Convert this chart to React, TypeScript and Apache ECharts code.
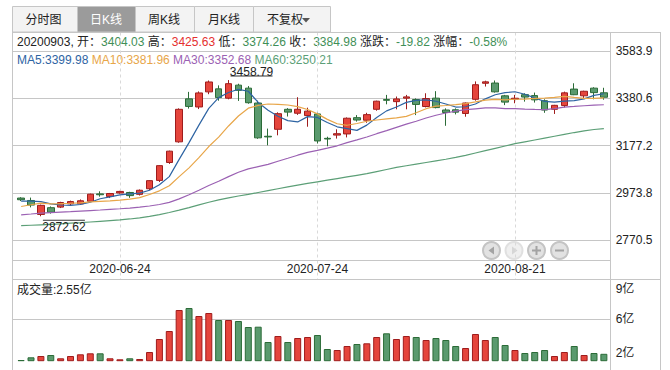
import { useEffect, useRef } from 'react';
import * as echarts from 'echarts';

const FONT = '"Liberation Sans", "Noto Sans CJK SC", sans-serif';

const dates = [
  '2020-06-10', '2020-06-11', '2020-06-12', '2020-06-15', '2020-06-16', '2020-06-17', '2020-06-18', '2020-06-19', '2020-06-22', '2020-06-23',
  '2020-06-24', '2020-06-29', '2020-06-30', '2020-07-01', '2020-07-02', '2020-07-03', '2020-07-06', '2020-07-07', '2020-07-08', '2020-07-09',
  '2020-07-10', '2020-07-13', '2020-07-14', '2020-07-15', '2020-07-16', '2020-07-17', '2020-07-20', '2020-07-21', '2020-07-22', '2020-07-23',
  '2020-07-24', '2020-07-27', '2020-07-28', '2020-07-29', '2020-07-30', '2020-07-31', '2020-08-03', '2020-08-04', '2020-08-05', '2020-08-06',
  '2020-08-07', '2020-08-10', '2020-08-11', '2020-08-12', '2020-08-13', '2020-08-14', '2020-08-17', '2020-08-18', '2020-08-19', '2020-08-20',
  '2020-08-21', '2020-08-24', '2020-08-25', '2020-08-26', '2020-08-27', '2020-08-28', '2020-08-31', '2020-09-01', '2020-09-02', '2020-09-03',
];

// [open, close, low, high]
const candles = [
  [2951.0, 2943.75, 2938.0, 2954.6], [2940.6, 2920.9, 2911.0, 2953.0], [2880.5, 2919.74, 2872.62, 2922.8], [2909.5, 2890.03, 2884.0, 2915.0],
  [2912.0, 2931.75, 2908.0, 2935.0], [2926.0, 2935.87, 2920.0, 2940.0], [2926.0, 2939.32, 2921.0, 2945.0], [2937.0, 2967.63, 2935.0, 2970.0],
  [2969.0, 2965.27, 2957.0, 2980.0], [2958.0, 2970.62, 2951.0, 2973.0], [2973.0, 2979.55, 2970.0, 2982.0], [2975.0, 2961.52, 2952.0, 2978.0],
  [2967.0, 2984.67, 2962.0, 2988.0], [2991.0, 3025.98, 2985.0, 3027.0], [3027.0, 3090.57, 3020.0, 3092.0], [3104.0, 3152.81, 3098.0, 3155.0],
  [3193.0, 3332.88, 3189.0, 3337.0], [3378.0, 3345.34, 3336.0, 3408.0], [3343.0, 3403.44, 3334.0, 3410.0], [3408.0, 3450.59, 3398.0, 3457.0],
  [3421.0, 3383.32, 3370.0, 3436.0], [3381.0, 3443.29, 3376.0, 3458.79], [3437.0, 3414.62, 3369.0, 3443.0], [3424.0, 3361.3, 3357.0, 3433.0],
  [3360.0, 3210.1, 3206.0, 3370.0], [3217.0, 3214.13, 3178.0, 3250.0], [3247.0, 3314.15, 3221.0, 3320.0], [3333.0, 3320.9, 3302.0, 3338.0],
  [3316.0, 3333.16, 3309.0, 3385.0], [3306.0, 3325.11, 3258.0, 3340.0], [3313.0, 3196.77, 3186.0, 3318.0], [3208.0, 3205.23, 3174.0, 3215.0],
  [3222.0, 3227.96, 3207.0, 3247.0], [3227.0, 3294.55, 3212.0, 3298.0], [3297.0, 3286.82, 3280.0, 3308.0], [3286.0, 3310.01, 3275.0, 3318.0],
  [3333.0, 3367.97, 3327.0, 3370.0], [3375.0, 3371.69, 3354.5, 3395.0], [3366.0, 3377.56, 3333.0, 3388.0], [3381.0, 3386.46, 3333.0, 3395.0],
  [3375.0, 3354.04, 3308.0, 3380.0], [3345.0, 3379.25, 3341.0, 3402.0], [3381.0, 3340.29, 3337.0, 3411.0], [3330.0, 3319.27, 3262.0, 3337.0],
  [3331.0, 3320.73, 3311.0, 3337.0], [3315.0, 3360.1, 3301.0, 3362.0], [3376.0, 3438.8, 3370.0, 3453.0], [3445.0, 3451.09, 3431.0, 3456.0],
  [3446.0, 3408.13, 3405.0, 3457.0], [3391.0, 3363.9, 3351.0, 3395.0], [3377.0, 3380.68, 3359.0, 3395.0], [3396.0, 3385.64, 3366.0, 3402.0],
  [3392.0, 3373.58, 3362.0, 3405.0], [3370.0, 3329.74, 3318.0, 3376.0], [3333.0, 3350.11, 3313.0, 3352.0], [3349.0, 3403.81, 3341.0, 3409.0],
  [3420.0, 3395.68, 3394.0, 3445.0], [3391.0, 3410.61, 3380.0, 3413.0], [3424.0, 3404.8, 3376.0, 3428.0], [3404.03, 3384.98, 3374.26, 3425.63],
];

// 成交量 (亿)
const volumes = [
  1.93, 2.2, 2.33, 2.43, 2.1, 2.33, 2.5, 2.6, 2.6, 2.1,
  2.0, 2.1, 2.03, 2.73, 4.03, 4.83, 6.93, 7.13, 6.33, 6.63,
  5.93, 5.93, 5.83, 5.23, 5.26, 3.73, 4.33, 3.73, 4.13, 4.23,
  4.43, 3.03, 2.93, 3.33, 3.53, 3.6, 4.23, 4.6, 4.03, 4.33,
  4.23, 3.93, 4.13, 3.93, 3.33, 3.13, 4.53, 3.93, 4.23, 3.43,
  2.93, 2.63, 2.73, 2.93, 2.33, 2.73, 3.33, 2.43, 2.63, 2.55,
];

const ma5 = [
  2937.54, 2937.87, 2935.65, 2926.11, 2921.23, 2919.66, 2923.34, 2932.92, 2947.97, 2955.74,
  2964.48, 2968.92, 2972.33, 2984.47, 3008.46, 3043.11, 3117.38, 3189.52, 3265.01, 3337.01,
  3383.11, 3405.2, 3419.05, 3410.62, 3362.53, 3328.69, 3302.86, 3284.12, 3278.49, 3301.49,
  3298.02, 3276.23, 3257.65, 3249.92, 3242.27, 3264.91, 3297.46, 3326.21, 3342.81, 3362.74,
  3371.54, 3373.8, 3367.52, 3355.86, 3342.72, 3343.93, 3355.84, 3378.0, 3395.77, 3404.4,
  3408.52, 3397.89, 3382.39, 3366.71, 3363.95, 3368.58, 3370.58, 3377.99, 3393.0, 3399.98,
];
const ma10 = [
  2914.68, 2922.11, 2928.85, 2926.31, 2927.35, 2928.6, 2930.6, 2934.29, 2937.04, 2938.49,
  2942.07, 2946.13, 2952.62, 2966.22, 2982.1, 3003.79, 3043.15, 3080.92, 3124.74, 3172.74,
  3213.11, 3261.29, 3304.28, 3337.82, 3349.77, 3355.9, 3354.03, 3351.58, 3344.56, 3332.01,
  3313.35, 3289.55, 3270.88, 3264.21, 3271.88, 3281.47, 3286.85, 3291.93, 3296.37, 3302.5,
  3318.23, 3335.63, 3346.86, 3349.34, 3352.73, 3357.74, 3364.82, 3372.76, 3375.82, 3373.56,
  3376.22, 3376.86, 3380.19, 3381.24, 3384.18, 3388.55, 3384.24, 3380.19, 3379.86, 3381.96,
];
const ma30 = [
  2878.79, 2882.3, 2885.96, 2888.21, 2890.6, 2892.52, 2894.78, 2897.19, 2899.54, 2902.18,
  2904.9, 2907.94, 2911.81, 2916.83, 2923.23, 2932.2, 2947.7, 2965.42, 2984.94, 3005.09,
  3023.31, 3043.2, 3061.94, 3076.8, 3086.42, 3096.11, 3109.27, 3122.27, 3135.45, 3147.75,
  3156.18, 3165.66, 3175.93, 3189.41, 3201.25, 3213.72, 3228.01, 3241.48, 3255.22, 3269.08,
  3281.56, 3295.49, 3307.34, 3317.12, 3324.79, 3331.7, 3335.23, 3338.75, 3338.91, 3336.02,
  3335.93, 3334.01, 3332.64, 3331.59, 3336.26, 3342.58, 3345.3, 3348.29, 3350.68, 3352.68,
];
const ma60 = [
  2832, 2834, 2836, 2838, 2840, 2843, 2845, 2848, 2851, 2854,
  2857, 2861, 2866, 2872, 2880, 2889, 2899, 2910, 2922, 2933,
  2943, 2952, 2960, 2967, 2975, 2983, 2991, 2999, 3007, 3014,
  3021, 3028, 3035, 3042, 3049, 3056, 3065, 3074, 3083, 3090,
  3097, 3104, 3111, 3118, 3126, 3135, 3145, 3155, 3165, 3175,
  3185, 3193, 3201, 3209, 3217, 3225, 3233, 3240, 3246, 3250.21,
];

const priceTickLabels = ['2770.5', '2973.8', '3177.2', '3380.6', '3583.9'];
const priceMin = 2770.5;
const priceMax = 3583.9;
const volTickValues = [2, 6, 9];
const volMin = 1.86;
const volMax = 10;

const tabs = ['分时图', '日K线', '周K线', '月K线', '不复权'];
const activeTab = 1;

const RED_FILL = '#e5453c';
const RED_BORDER = '#9f1c1c';
const GREEN_FILL = '#5a9a6e';
const GREEN_BORDER = '#2b6b37';
const TXT_GREEN = '#3f8f57';
const TXT_RED = '#e5302f';
const MA_COLORS = ['#2e64a3', '#e8a649', '#9b61b3', '#5c9f77'];
const LINE = '#c6c6c6';

const labelInterval = (i: number) => i % 20 === 10;

function buildOption() {
  const last = candles[candles.length - 1];
  const prevClose = candles[candles.length - 2][1];
  const chg = last[1] - prevClose;
  const pct = (chg / prevClose) * 100;
  const lastDate = dates[dates.length - 1].replace(/-/g, '');

  const infoText =
    `{k|${lastDate}, 开：}{g|${last[0].toFixed(2)}}{k| 高：}{r|${last[3].toFixed(2)}}` +
    `{k| 低：}{g|${last[2].toFixed(2)}}{k| 收：}{g|${last[1].toFixed(2)}}` +
    `{k| 涨跌：}{g|${chg.toFixed(2)}}{k| 涨幅：}{g|${pct.toFixed(2)}%}`;
  const n = ma5.length - 1;
  const maText =
    `{a|MA5:${ma5[n].toFixed(2)} }{b|MA10:${ma10[n].toFixed(2)} }{c|MA30:${ma30[n].toFixed(2)} }{d|MA60:${ma60[n].toFixed(2)}}`;

  const tabGeom = [
    { x: 12, w: 65, cx: 43.5 },
    { x: 77, w: 58, cx: 106 },
    { x: 135, w: 59, cx: 164 },
    { x: 194, w: 59, cx: 224 },
    { x: 253, w: 77, cx: 285 },
  ];
  const elements: any[] = [];
  tabs.forEach((t, i) => {
    const g = tabGeom[i];
    elements.push({
      type: 'rect',
      shape: { x: g.x + 0.5, y: 6.5, width: g.w, height: 25.5 },
      style: { fill: i === activeTab ? '#9b9b9b' : '#f3f3f3', stroke: '#c6c6c6', lineWidth: 1 },
    });
    elements.push({
      type: 'text',
      style: {
        text: t, x: g.cx, y: 19.5, fill: i === activeTab ? '#ffffff' : '#222',
        fontSize: 12, fontFamily: FONT, align: 'center', verticalAlign: 'middle',
        textAlign: 'center', textVerticalAlign: 'middle',
      },
    });
  });
  elements.push({
    type: 'polygon',
    shape: { points: [[302, 18], [310, 18], [306, 22.5]] },
    style: { fill: '#555' },
  });

  // frame lines
  const L = (x1: number, y1: number, x2: number, y2: number) => ({
    type: 'line', shape: { x1, y1, x2, y2 }, style: { stroke: LINE, lineWidth: 1 }, z: 1,
  });
  elements.push(L(12.5, 32, 12.5, 370));
  elements.push(L(660.5, 32, 660.5, 370));
  elements.push(L(12, 32.5, 661, 32.5));
  elements.push(L(610.5, 32, 610.5, 370));
  elements.push(L(12, 260.5, 611, 260.5));
  elements.push(L(12, 279.5, 661, 279.5));

  elements.push({
    type: 'text',
    style: {
      text: infoText, x: 17, y: 42, fontSize: 12, fontFamily: FONT,
      verticalAlign: 'middle', textVerticalAlign: 'middle',
      rich: {
        k: { fill: '#222', fontSize: 12, fontFamily: FONT, lineHeight: 12 },
        g: { fill: TXT_GREEN, fontSize: 12, fontFamily: FONT, lineHeight: 12 },
        r: { fill: TXT_RED, fontSize: 12, fontFamily: FONT, lineHeight: 12 },
      },
    },
  });
  elements.push({
    type: 'text',
    style: {
      text: maText, x: 17, y: 60, fontSize: 12, fontFamily: FONT,
      verticalAlign: 'middle', textVerticalAlign: 'middle',
      rich: {
        a: { fill: MA_COLORS[0], fontSize: 12, fontFamily: FONT, lineHeight: 12 },
        b: { fill: MA_COLORS[1], fontSize: 12, fontFamily: FONT, lineHeight: 12 },
        c: { fill: MA_COLORS[2], fontSize: 12, fontFamily: FONT, lineHeight: 12 },
        d: { fill: MA_COLORS[3], fontSize: 12, fontFamily: FONT, lineHeight: 12 },
      },
    },
  });
  elements.push({
    type: 'text',
    style: {
      text: `成交量:${volumes[volumes.length - 1].toFixed(2)}亿`, x: 17, y: 290, fill: '#222',
      fontSize: 12, fontFamily: FONT, verticalAlign: 'middle', textVerticalAlign: 'middle',
    },
  });

  // zoom buttons
  const bx = [491.5, 514, 536.5, 559.5];
  const by = 250.5;
  bx.forEach((cx, i) => {
    const disabled = i === 1;
    elements.push({
      type: 'circle',
      shape: { cx, cy: by, r: 8.5 },
      style: { fill: disabled ? '#efefef' : '#e2e2e2', stroke: disabled ? '#e0e0e0' : '#c4c4c4', lineWidth: 2 },
    });
    const ic = disabled ? '#d6d6d6' : '#a3a3a3';
    if (i === 0) {
      elements.push({ type: 'polygon', shape: { points: [[cx + 2.5, by - 4], [cx + 2.5, by + 4], [cx - 3, by]] }, style: { fill: ic } });
    } else if (i === 1) {
      elements.push({ type: 'polygon', shape: { points: [[cx - 2, by - 4], [cx - 2, by + 4], [cx + 3.5, by]] }, style: { fill: ic } });
    } else if (i === 2) {
      elements.push({ type: 'rect', shape: { x: cx - 4.5, y: by - 1, width: 9, height: 2 }, style: { fill: ic } });
      elements.push({ type: 'rect', shape: { x: cx - 1, y: by - 4.5, width: 2, height: 9 }, style: { fill: ic } });
    } else {
      elements.push({ type: 'rect', shape: { x: cx - 4.5, y: by - 1, width: 9, height: 2 }, style: { fill: ic } });
    }
  });

  const volData = volumes.map((v, i) => {
    const up = candles[i][1] >= candles[i][0];
    return {
      value: v,
      itemStyle: { color: up ? RED_FILL : GREEN_FILL, borderColor: up ? RED_BORDER : GREEN_BORDER, borderWidth: 1 },
    };
  });

  const maSeries = [ma5, ma10, ma30, ma60].map((d, i) => ({
    type: 'line',
    name: ['MA5', 'MA10', 'MA30', 'MA60'][i],
    xAxisIndex: 0,
    yAxisIndex: 0,
    data: d,
    symbol: 'none',
    showSymbol: false,
    silent: true,
    lineStyle: { color: MA_COLORS[i], width: 1.2 },
    z: 3,
  }));

  const axisText = { color: '#222', fontSize: 12, fontFamily: FONT };

  return {
    animation: false,
    backgroundColor: '#ffffff',
    textStyle: { fontFamily: FONT },
    graphic: { elements },
    grid: [
      { left: 16.2, top: 51, width: 592.6, height: 189 },
      { left: 12, top: 51, width: 598.7, height: 189 },
      { left: 21.14, top: 32.5, width: 582.74, height: 246.8 },
      { left: 16.2, top: 279.3, width: 592.6, height: 81.4 },
      { left: 12, top: 279.3, width: 598.7, height: 81.4 },
    ],
    xAxis: [
      {
        gridIndex: 0, type: 'category', data: dates, boundaryGap: true,
        axisLine: { show: false }, axisTick: { show: false }, splitLine: { show: false },
        axisLabel: { ...axisText, interval: labelInterval, margin: 23 },
      },
      { gridIndex: 1, type: 'value', min: 0, max: 1, show: false },
      {
        gridIndex: 2, type: 'category', data: dates, boundaryGap: false,
        axisLine: { show: false }, axisTick: { show: false }, axisLabel: { show: false },
        splitLine: { show: true, interval: labelInterval, lineStyle: { color: '#d9d9d9', type: [3, 3], width: 1 } },
      },
      { gridIndex: 3, type: 'category', data: dates, boundaryGap: true, show: false },
      { gridIndex: 4, type: 'value', min: 0, max: 1, show: false },
    ],
    yAxis: [
      { gridIndex: 0, type: 'value', min: priceMin, max: priceMax, show: false },
      {
        gridIndex: 1, type: 'value', position: 'right', min: 0, max: priceTickLabels.length - 1, interval: 1,
        axisLine: { show: false },
        axisTick: { show: true, length: 3, lineStyle: { color: LINE } },
        axisLabel: { ...axisText, margin: 5, formatter: (v: number) => priceTickLabels[Math.round(v)] },
        splitLine: { show: true, lineStyle: { color: LINE, width: 1 } },
      },
      { gridIndex: 2, type: 'value', min: 0, max: 1, show: false },
      { gridIndex: 3, type: 'value', min: volMin, max: volMax, show: false },
      {
        gridIndex: 4, type: 'value', position: 'right', min: volMin, max: volMax,
        axisLine: { show: false },
        axisTick: { show: true, length: 3, customValues: [6], lineStyle: { color: LINE } },
        axisLabel: {
          ...axisText, margin: 5, customValues: volTickValues,
          formatter: (v: number) => (v === volTickValues[0] ? `{u|${v}亿}` : `${v}亿`),
          rich: { u: { ...axisText, padding: [0, 0, 13, 0] } },
        },
        splitLine: { show: true, lineStyle: { color: LINE, width: 1 } },
      },
    ],
    series: [
      {
        type: 'candlestick',
        xAxisIndex: 0,
        yAxisIndex: 0,
        data: candles,
        barWidth: 7,
        itemStyle: {
          color: RED_FILL, color0: GREEN_FILL, borderColor: RED_BORDER, borderColor0: GREEN_BORDER, borderWidth: 1,
        },
        markPoint: {
          silent: true,
          animation: false,
          data: [
            {
              type: 'max', valueDim: 'highest', symbol: 'rect', symbolSize: [42, 1], symbolOffset: [23, -4],
              itemStyle: { color: '#333' },
              label: { show: true, position: 'top', distance: -2, lineHeight: 12, ...axisText, formatter: (p: any) => String(p.value) },
            },
            {
              type: 'min', valueDim: 'lowest', symbol: 'rect', symbolSize: [42, 1], symbolOffset: [23, 4],
              itemStyle: { color: '#333' },
              label: { show: true, position: 'bottom', distance: 0, lineHeight: 12, ...axisText, formatter: (p: any) => String(p.value) },
            },
          ],
        },
        z: 2,
      },
      ...maSeries,
      {
        type: 'bar',
        xAxisIndex: 3,
        yAxisIndex: 3,
        data: volData,
        barWidth: 7,
        silent: true,
      },
    ],
  };
}

export default function App() {
  const ref = useRef<HTMLDivElement>(null);
  useEffect(() => {
    if (!ref.current) return;
    const chart = echarts.init(ref.current, null, { renderer: 'svg' });
    chart.setOption(buildOption() as any);
    return () => chart.dispose();
  }, []);
  return <div ref={ref} style={{ position: 'fixed', left: 0, top: 0, width: 670, height: 370, background: '#fff' }} />;
}
